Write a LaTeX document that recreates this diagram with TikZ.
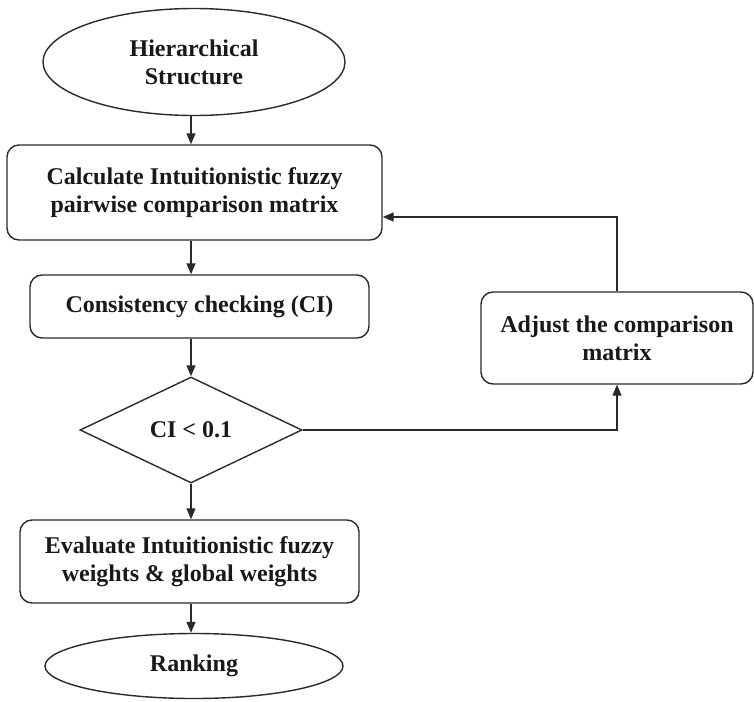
\documentclass[tikz,border=0pt]{standalone}
\usepackage{fontspec}
\setmainfont{Liberation Serif}
\usetikzlibrary{shapes.geometric,arrows.meta}
\definecolor{ln}{HTML}{2A2A2A}
\begin{document}
\begin{tikzpicture}[x=1pt,y=-1pt,
  every node/.style={font=\bfseries\fontsize{24}{28}\selectfont, text=black!90, align=center, draw=ln, line width=1.4pt, inner sep=0pt},
  oval/.style={ellipse},
  rbox/.style={rectangle, rounded corners=12pt},
  dia/.style={diamond},
  arr/.style={draw=ln, line width=1.3pt, -{Triangle[length=11pt,width=9pt]}},
  ln/.style={draw=ln, line width=1.3pt}]
\useasboundingbox (0,0) rectangle (754,701);
\coordinate (col) at (191,0);
\node[oval, minimum width=302pt, minimum height=107pt] (hs) at (194,62) {Hierarchical\\Structure};
\node[rbox, minimum width=375pt, minimum height=95pt] (b1) at (194.5,192.5) {Calculate Intuitionistic fuzzy\\pairwise comparison matrix};
\node[rbox, minimum width=339pt, minimum height=63pt] (b2) at (199.5,306.5) {Consistency checking (CI)};
\node[dia, minimum width=222pt, minimum height=106pt] (d) at (191,430) {CI < 0.1};
\node[rbox, minimum width=339pt, minimum height=83pt] (b3) at (189.5,561.5) {Evaluate Intuitionistic fuzzy\\weights \& global weights};
\node[oval, minimum width=298pt, minimum height=65pt] (rk) at (194,666) {Ranking};
\node[rbox, minimum width=272pt, minimum height=92pt] (adj) at (617,338) {Adjust the comparison\\matrix};
\draw[arr] (hs.south -| col) -- (b1.north -| col);
\draw[arr] (b1.south -| col) -- (b2.north -| col);
\draw[arr] (b2.south -| col) -- (d.north);
\draw[arr] (d.south) -- (b3.north -| col);
\draw[arr] (b3.south -| col) -- (rk.north -| col);
\draw[arr] (d.east) -| (adj.south);
\draw[arr] (adj.north) |- ([yshift=-24.5pt]b1.east);
\end{tikzpicture}
\end{document}
